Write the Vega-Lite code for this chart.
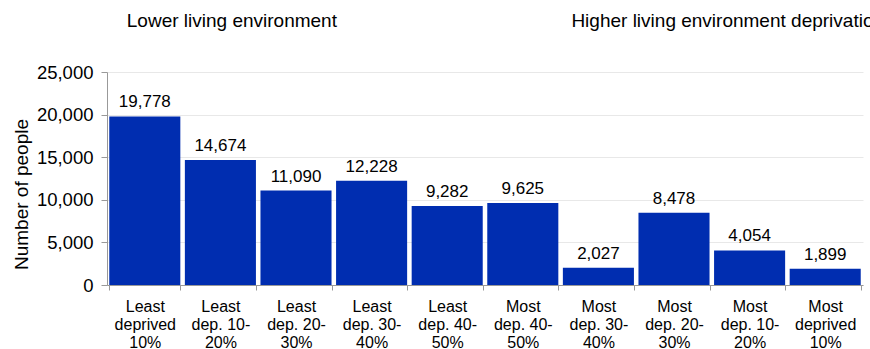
{
  "$schema": "https://vega.github.io/schema/vega-lite/v6.json",
  "autosize": {"type": "none"},
  "width": 756,
  "height": 213,
  "padding": {"left": 107, "top": 72, "right": 7, "bottom": 64},
  "background": "white",
  "config": {
    "font": "Liberation Sans",
    "view": {"stroke": null}
  },
  "datasets": {
    "bars": [
      {"group": "Least deprived 10%", "people": 19778},
      {"group": "Least dep. 10-20%", "people": 14674},
      {"group": "Least dep. 20-30%", "people": 11090},
      {"group": "Least dep. 30-40%", "people": 12228},
      {"group": "Least dep. 40-50%", "people": 9282},
      {"group": "Most dep. 40-50%", "people": 9625},
      {"group": "Most dep. 30-40%", "people": 2027},
      {"group": "Most dep. 20-30%", "people": 8478},
      {"group": "Most dep. 10-20%", "people": 4054},
      {"group": "Most deprived 10%", "people": 1899}
    ],
    "notes": [
      {"group": "Least deprived 10%", "note": "Lower living environment", "side": "low", "level": 30300},
      {"group": "Most dep. 30-40%", "note": "Higher living environment deprivation", "side": "high", "level": 30300}
    ]
  },
  "layer": [
    {
      "data": {"name": "bars"},
      "mark": {"type": "bar", "color": "#002db0"},
      "encoding": {
        "x": {
          "field": "group", "type": "nominal", "sort": null,
          "scale": {"paddingInner": 0.06, "paddingOuter": 0.03},
          "axis": {
            "title": null,
            "labelAngle": 0,
            "labelFontSize": 16,
            "labelColor": "#000000",
            "labelLineHeight": 18,
            "labelPadding": 8,
            "labelExpr": "split(replace(replace(datum.label, regexp('^(\\\\w+) '), '$1|'), regexp('( |-)(\\\\d+%)$'), '$1|$2'), '|')",
            "tickBand": "extent",
            "tickSize": 5,
            "tickColor": "#999999",
            "domainColor": "#999999",
            "labelOverlap": false,
            "labelBound": false
          }
        },
        "y": {
          "field": "people", "type": "quantitative",
          "scale": {"domain": [0, 25000], "nice": false},
          "axis": {
            "title": "Number of people",
            "titleFontSize": 19,
            "titleFontWeight": "normal",
            "titleColor": "#000000",
            "titleX": -76,
            "titleY": 122,
            "values": [0, 5000, 10000, 15000, 20000, 25000],
            "format": ",d",
            "labelFontSize": 18.5,
            "labelColor": "#000000",
            "labelPadding": 8,
            "tickSize": 6,
            "tickColor": "#999999",
            "domainColor": "#999999",
            "gridColor": "#e8e8e8",
            "grid": true
          }
        }
      }
    },
    {
      "data": {"name": "bars"},
      "mark": {"type": "text", "baseline": "alphabetic", "dy": -9, "fontSize": 17, "color": "#000000"},
      "encoding": {
        "x": {"field": "group", "type": "nominal", "sort": null},
        "y": {"field": "people", "type": "quantitative"},
        "text": {"field": "people", "type": "quantitative", "format": ",d"}
      }
    },
    {
      "data": {"name": "notes"},
      "transform": [{"filter": "datum.side == 'low'"}],
      "mark": {"type": "text", "align": "left", "baseline": "alphabetic", "fontSize": 19, "color": "#000000", "dx": -18},
      "encoding": {
        "x": {"field": "group", "type": "nominal", "sort": null},
        "y": {"field": "level", "type": "quantitative"},
        "text": {"field": "note"}
      }
    },
    {
      "data": {"name": "notes"},
      "transform": [{"filter": "datum.side == 'high'"}],
      "mark": {"type": "text", "align": "left", "baseline": "alphabetic", "fontSize": 19, "color": "#000000", "dx": -27},
      "encoding": {
        "x": {"field": "group", "type": "nominal", "sort": null},
        "y": {"field": "level", "type": "quantitative"},
        "text": {"field": "note"}
      }
    }
  ]
}
